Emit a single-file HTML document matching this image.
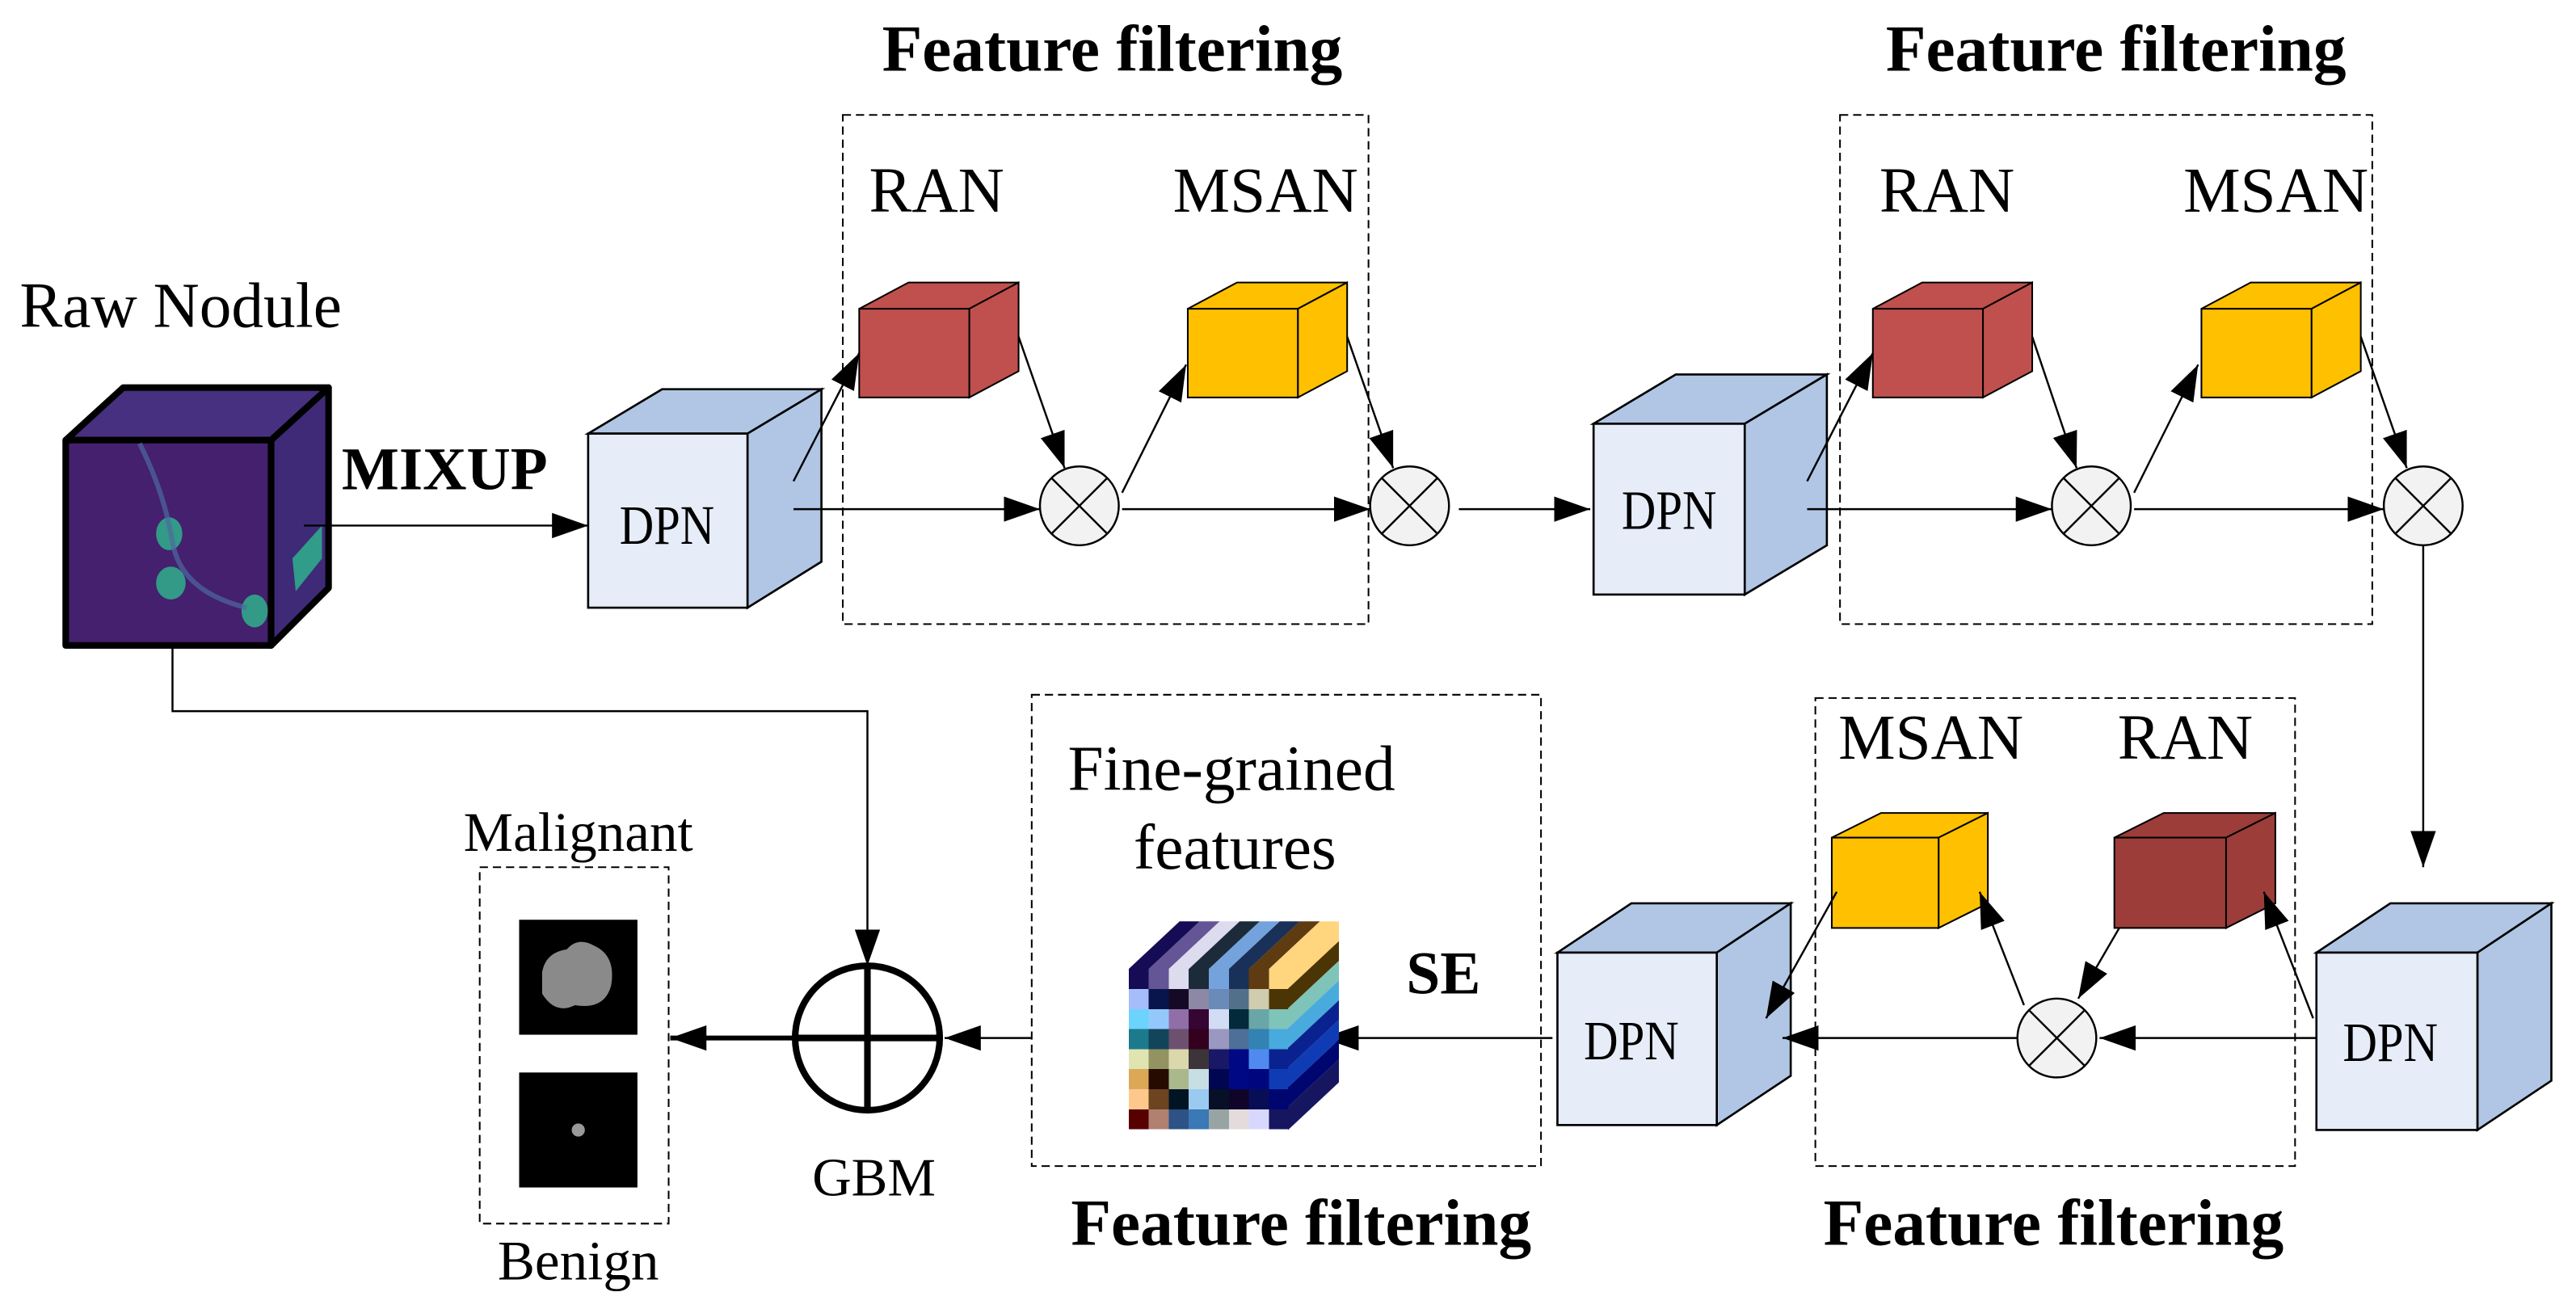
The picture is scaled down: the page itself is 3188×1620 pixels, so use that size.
<!DOCTYPE html>
<html><head><meta charset="utf-8"><style>html,body{margin:0;padding:0;background:#fff}svg{display:block}</style></head>
<body>
<svg width="3188" height="1620" viewBox="0 0 1568 797" preserveAspectRatio="none" xmlns="http://www.w3.org/2000/svg" font-family="Liberation Serif, serif">
<defs>
<marker id="b" viewBox="0 0 10 10" refX="10" refY="5" markerWidth="22" markerHeight="22" markerUnits="userSpaceOnUse" orient="auto"><path d="M0,1.5 L10,5 L0,8.5z"/></marker>
</defs>
<g fill="none" stroke="#000" stroke-dasharray="5,3" stroke-width="1">
<rect x="513" y="70" width="320" height="310"/>
<rect x="1120" y="70" width="324" height="310"/>
<rect x="1105" y="425" width="292" height="285"/>
<rect x="628" y="423" width="310" height="287"/>
<rect x="292" y="528" width="115" height="217"/>
</g>
<g font-weight="bold" font-size="40" text-anchor="middle">
<text x="677" y="43">Feature filtering</text>
<text x="1288" y="43">Feature filtering</text>
<text x="1250" y="758">Feature filtering</text>
<text x="792" y="758">Feature filtering</text>
</g>
<g font-size="39">
<text x="529" y="129">RAN</text><text x="714" y="129">MSAN</text>
<text x="1144" y="129">RAN</text><text x="1329" y="129">MSAN</text>
<text x="1119" y="462">MSAN</text><text x="1289" y="462">RAN</text>
<text x="650" y="481">Fine-grained</text><text x="690" y="529">features</text>
</g>
<text x="12" y="199" font-size="39">Raw Nodule</text>
<text x="208" y="298" font-size="37" font-weight="bold">MIXUP</text>
<text x="856" y="605" font-size="37" font-weight="bold">SE</text>
<text x="532" y="728" font-size="33" text-anchor="middle">GBM</text>
<text x="352" y="518" font-size="34" text-anchor="middle">Malignant</text>
<text x="352" y="779" font-size="34" text-anchor="middle">Benign</text>

<g stroke="#000" stroke-width="4" stroke-linejoin="round">
<path d="M40,268 L75,236 L200,236 L165,268z" fill="#473080"/>
<path d="M165,268 L200,236 L200,358 L165,393z" fill="#3f2a78"/>
<rect x="40" y="268" width="125" height="125" fill="#44206e"/>
</g>
<g fill="#2fb08c" opacity="0.85">
<ellipse cx="103" cy="325" rx="8" ry="10"/><ellipse cx="104" cy="355" rx="9" ry="10"/><ellipse cx="155" cy="372" rx="8" ry="10"/>
<path d="M178,340 L196,320 L196,340 L180,360z"/>
</g>
<path d="M85,270 Q100,300 105,330 Q110,360 150,370" stroke="#4d6aa0" stroke-width="3" fill="none" opacity="0.7"/>

<g stroke="#000" stroke-width="1.3">
<path d="M358,264 L403,237 L500,237 L455,264z" fill="#b0c6e4"/>
<path d="M455,264 L500,237 L500,342 L455,370z" fill="#b0c6e4"/>
<rect x="358" y="264" width="97" height="106" fill="#e6edf8"/>
<path d="M970,258 L1020,228 L1112,228 L1062,258z" fill="#b0c6e4"/>
<path d="M1062,258 L1112,228 L1112,332 L1062,362z" fill="#b0c6e4"/>
<rect x="970" y="258" width="92" height="104" fill="#e6edf8"/>
<path d="M948,580 L993,550 L1090,550 L1045,580z" fill="#b0c6e4"/>
<path d="M1045,580 L1090,550 L1090,655 L1045,685z" fill="#b0c6e4"/>
<rect x="948" y="580" width="97" height="105" fill="#e6edf8"/>
<path d="M1410,580 L1455,550 L1553,550 L1508,580z" fill="#b0c6e4"/>
<path d="M1508,580 L1553,550 L1553,658 L1508,688z" fill="#b0c6e4"/>
<rect x="1410" y="580" width="98" height="108" fill="#e6edf8"/>
</g>
<g font-size="34" text-anchor="middle">
<text x="406" y="331" transform="translate(406,0) scale(0.85,1) translate(-406,0)">DPN</text>
<text x="1016" y="322" transform="translate(1016,0) scale(0.85,1) translate(-1016,0)">DPN</text>
<text x="993" y="645" transform="translate(993,0) scale(0.85,1) translate(-993,0)">DPN</text>
<text x="1455" y="646" transform="translate(1455,0) scale(0.85,1) translate(-1455,0)">DPN</text>
</g>

<g stroke="#000" stroke-width="1">
<g fill="#c0504d"><path d="M523,188 L553,172 L620,172 L590,188z"/><path d="M590,188 L620,172 L620,226 L590,242z"/><rect x="523" y="188" width="67" height="54"/></g>
<g fill="#ffc000"><path d="M723,188 L753,172 L820,172 L790,188z"/><path d="M790,188 L820,172 L820,226 L790,242z"/><rect x="723" y="188" width="67" height="54"/></g>
<g fill="#c0504d"><path d="M1140,188 L1170,172 L1237,172 L1207,188z"/><path d="M1207,188 L1237,172 L1237,226 L1207,242z"/><rect x="1140" y="188" width="67" height="54"/></g>
<g fill="#ffc000"><path d="M1340,188 L1370,172 L1437,172 L1407,188z"/><path d="M1407,188 L1437,172 L1437,226 L1407,242z"/><rect x="1340" y="188" width="67" height="54"/></g>
<g fill="#ffc000"><path d="M1115,510 L1145,495 L1210,495 L1180,510z"/><path d="M1180,510 L1210,495 L1210,550 L1180,565z"/><rect x="1115" y="510" width="65" height="55"/></g>
<g fill="#9c3d3a"><path d="M1287,510 L1317,495 L1385,495 L1355,510z"/><path d="M1355,510 L1385,495 L1385,550 L1355,565z"/><rect x="1287" y="510" width="68" height="55"/></g>
</g>

<g stroke="#000" stroke-width="1.2" fill="#f2f2f2">
<circle cx="657" cy="308" r="24"/><path d="M640,291 L674,325 M674,291 L640,325"/>
<circle cx="858" cy="308" r="24"/><path d="M841,291 L875,325 M875,291 L841,325"/>
<circle cx="1273" cy="308" r="24"/><path d="M1256,291 L1290,325 M1290,291 L1256,325"/>
<circle cx="1475" cy="308" r="24"/><path d="M1458,291 L1492,325 M1492,291 L1458,325"/>
<circle cx="1252" cy="632" r="24"/><path d="M1235,615 L1269,649 M1269,615 L1235,649"/>
</g>
<g stroke="#000" stroke-width="4" fill="#fff"><circle cx="528" cy="632" r="44"/><path d="M484,632 H572 M528,588 V676"/></g>

<g stroke="#000" stroke-width="1.2" fill="none" marker-end="url(#b)">
<path d="M185,320 H358"/>
<path d="M483,310 H633"/>
<path d="M483,293 L523,215"/>
<path d="M620,205 L648,285"/>
<path d="M683,300 L722,222"/>
<path d="M820,205 L848,285"/>
<path d="M683,310 H834"/>
<path d="M888,310 H968"/>
<path d="M1100,310 H1249"/>
<path d="M1100,293 L1140,215"/>
<path d="M1237,205 L1264,285"/>
<path d="M1299,300 L1338,222"/>
<path d="M1437,205 L1465,285"/>
<path d="M1299,310 H1451"/>
<path d="M1475,332 V528"/>
<path d="M1410,632 H1278"/>
<path d="M1408,620 L1378,543"/>
<path d="M1290,565 L1265,608"/>
<path d="M1232,612 L1205,543"/>
<path d="M1118,543 L1075,620"/>
<path d="M1228,632 H1085"/>
<path d="M945,632 H805"/>
<path d="M628,632 H575"/>
<path d="M105,393 V433 H528 V588"/>
</g>
<path d="M483,632 H408" stroke="#000" stroke-width="3" marker-end="url(#b)"/>

<rect x="316" y="560" width="72" height="70" fill="#000"/>
<path d="M330,592 Q332,580 345,578 Q352,570 362,576 Q375,582 372,600 Q368,615 350,612 Q338,618 330,605z" fill="#8a8a8a"/>
<rect x="316" y="653" width="72" height="70" fill="#000"/>
<circle cx="352" cy="688" r="4" fill="#999"/>

<g shape-rendering="crispEdges">
<g transform="translate(687,590)">
<rect x="0" y="0" width="12.2" height="12.2" fill="#160c55"/><rect x="12.2" y="0" width="12.2" height="12.2" fill="#635596"/><rect x="24.4" y="0" width="12.2" height="12.2" fill="#dcdcee"/><rect x="36.6" y="0" width="12.2" height="12.2" fill="#1c2b3a"/><rect x="48.8" y="0" width="12.2" height="12.2" fill="#74a2dc"/><rect x="61" y="0" width="12.2" height="12.2" fill="#193058"/><rect x="73.2" y="0" width="12.2" height="12.2" fill="#5e3b10"/><rect x="85.4" y="0" width="12.2" height="12.2" fill="#ffd57e"/>
<rect x="0" y="12.2" width="12.2" height="12.2" fill="#a6bdfc"/><rect x="12.2" y="12.2" width="12.2" height="12.2" fill="#08154d"/><rect x="24.4" y="12.2" width="12.2" height="12.2" fill="#140a26"/><rect x="36.6" y="12.2" width="12.2" height="12.2" fill="#8c88a5"/><rect x="48.8" y="12.2" width="12.2" height="12.2" fill="#6a8ab8"/><rect x="61" y="12.2" width="12.2" height="12.2" fill="#53708a"/><rect x="73.2" y="12.2" width="12.2" height="12.2" fill="#d0ccae"/><rect x="85.4" y="12.2" width="12.2" height="12.2" fill="#4c3505"/>
<rect x="0" y="24.4" width="12.2" height="12.2" fill="#6cd3fc"/><rect x="12.2" y="24.4" width="12.2" height="12.2" fill="#94c8fc"/><rect x="24.4" y="24.4" width="12.2" height="12.2" fill="#906ea8"/><rect x="36.6" y="24.4" width="12.2" height="12.2" fill="#360632"/><rect x="48.8" y="24.4" width="12.2" height="12.2" fill="#d2dcf4"/><rect x="61" y="24.4" width="12.2" height="12.2" fill="#032a3a"/><rect x="73.2" y="24.4" width="12.2" height="12.2" fill="#6ba6a6"/><rect x="85.4" y="24.4" width="12.2" height="12.2" fill="#7ec4b8"/>
<rect x="0" y="36.6" width="12.2" height="12.2" fill="#1c7a8c"/><rect x="12.2" y="36.6" width="12.2" height="12.2" fill="#12445a"/><rect x="24.4" y="36.6" width="12.2" height="12.2" fill="#6d5070"/><rect x="36.6" y="36.6" width="12.2" height="12.2" fill="#33001e"/><rect x="48.8" y="36.6" width="12.2" height="12.2" fill="#9a98c0"/><rect x="61" y="36.6" width="12.2" height="12.2" fill="#4e7098"/><rect x="73.2" y="36.6" width="12.2" height="12.2" fill="#3282b4"/><rect x="85.4" y="36.6" width="12.2" height="12.2" fill="#49aade"/>
<rect x="0" y="48.8" width="12.2" height="12.2" fill="#e0e4b0"/><rect x="12.2" y="48.8" width="12.2" height="12.2" fill="#939362"/><rect x="24.4" y="48.8" width="12.2" height="12.2" fill="#dad8ac"/><rect x="36.6" y="48.8" width="12.2" height="12.2" fill="#3c3438"/><rect x="48.8" y="48.8" width="12.2" height="12.2" fill="#181866"/><rect x="61" y="48.8" width="12.2" height="12.2" fill="#000884"/><rect x="73.2" y="48.8" width="12.2" height="12.2" fill="#508af0"/><rect x="85.4" y="48.8" width="12.2" height="12.2" fill="#0a2290"/>
<rect x="0" y="61" width="12.2" height="12.2" fill="#dca858"/><rect x="12.2" y="61" width="12.2" height="12.2" fill="#260c00"/><rect x="24.4" y="61" width="12.2" height="12.2" fill="#aab88c"/><rect x="36.6" y="61" width="12.2" height="12.2" fill="#c6dee4"/><rect x="48.8" y="61" width="12.2" height="12.2" fill="#000650"/><rect x="61" y="61" width="12.2" height="12.2" fill="#000884"/><rect x="73.2" y="61" width="12.2" height="12.2" fill="#00067e"/><rect x="85.4" y="61" width="12.2" height="12.2" fill="#0f3cb4"/>
<rect x="0" y="73.2" width="12.2" height="12.2" fill="#fec88c"/><rect x="12.2" y="73.2" width="12.2" height="12.2" fill="#6c4420"/><rect x="24.4" y="73.2" width="12.2" height="12.2" fill="#001424"/><rect x="36.6" y="73.2" width="12.2" height="12.2" fill="#9acaf0"/><rect x="48.8" y="73.2" width="12.2" height="12.2" fill="#081028"/><rect x="61" y="73.2" width="12.2" height="12.2" fill="#10042a"/><rect x="73.2" y="73.2" width="12.2" height="12.2" fill="#080e56"/><rect x="85.4" y="73.2" width="12.2" height="12.2" fill="#000670"/>
<rect x="0" y="85.4" width="12.2" height="12.2" fill="#560000"/><rect x="12.2" y="85.4" width="12.2" height="12.2" fill="#b08070"/><rect x="24.4" y="85.4" width="12.2" height="12.2" fill="#2c5286"/><rect x="36.6" y="85.4" width="12.2" height="12.2" fill="#3a78b6"/><rect x="48.8" y="85.4" width="12.2" height="12.2" fill="#98a4a4"/><rect x="61" y="85.4" width="12.2" height="12.2" fill="#e4dcdc"/><rect x="73.2" y="85.4" width="12.2" height="12.2" fill="#d8d8fe"/><rect x="85.4" y="85.4" width="12.2" height="12.2" fill="#161660"/>
</g>
</g>
<g>
<path d="M687,590 L718,561 L730.2,561 L699.2,590z" fill="#160c55"/>
<path d="M699.2,590 L730.2,561 L742.4,561 L711.4,590z" fill="#635596"/>
<path d="M711.4,590 L742.4,561 L754.6,561 L723.6,590z" fill="#dcdcee"/>
<path d="M723.6,590 L754.6,561 L766.8,561 L735.8,590z" fill="#1c2b3a"/>
<path d="M735.8,590 L766.8,561 L779,561 L748,590z" fill="#74a2dc"/>
<path d="M748,590 L779,561 L791.2,561 L760.2,590z" fill="#193058"/>
<path d="M760.2,590 L791.2,561 L803.4,561 L772.4,590z" fill="#5e3b10"/>
<path d="M772.4,590 L803.4,561 L815,561 L784,590z" fill="#ffd57e"/>
</g>
<g>
<path d="M784,590 L815,561 L815,573 L784,602z" fill="#ffd57e"/>
<path d="M784,602 L815,573 L815,585 L784,614z" fill="#4c3505"/>
<path d="M784,614 L815,585 L815,597 L784,626z" fill="#7ec4b8"/>
<path d="M784,626 L815,597 L815,609 L784,638z" fill="#49aade"/>
<path d="M784,638 L815,609 L815,621 L784,650z" fill="#0a2290"/>
<path d="M784,650 L815,621 L815,633 L784,662z" fill="#0f3cb4"/>
<path d="M784,662 L815,633 L815,645 L784,674z" fill="#000670"/>
<path d="M784,674 L815,645 L815,659 L784,688z" fill="#161660"/>
</g>
</svg>
</body></html>
